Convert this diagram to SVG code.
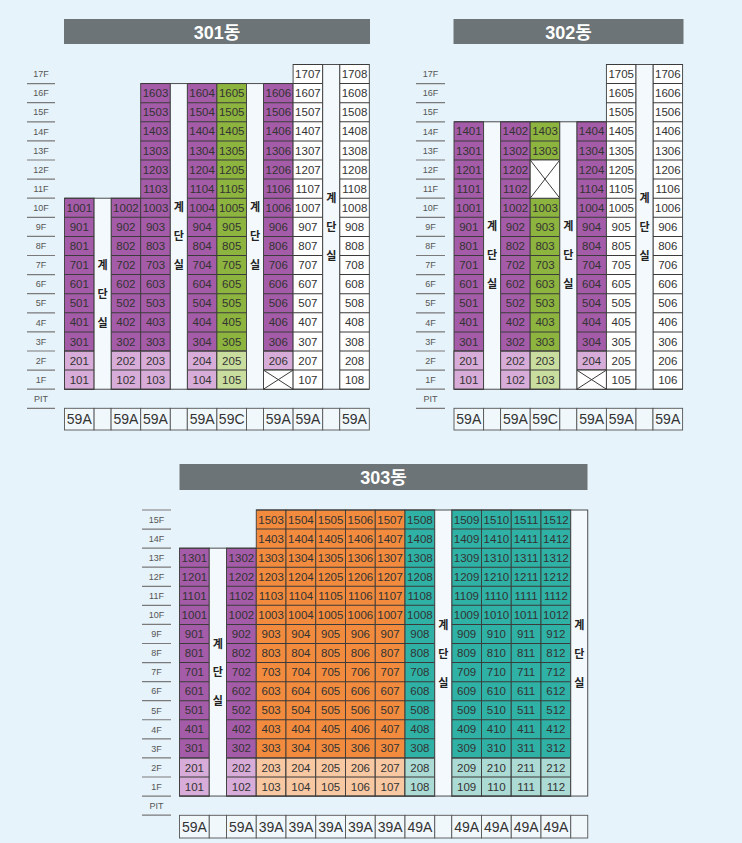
<svg xmlns="http://www.w3.org/2000/svg" width="742" height="843" viewBox="0 0 742 843">
<style>
text{font-family:"Liberation Sans","Noto Sans CJK KR",sans-serif}
.ttl{fill:#6c7477}
.tt{font-size:18px;font-weight:bold;fill:#fff;text-anchor:middle}
.fl{font-size:9px;fill:#555;text-anchor:middle}
.fln{fill:none;stroke:#7a7a7a;stroke-width:28;stroke-dasharray:1.2 17.9}
.fln3{fill:none;stroke:#7a7a7a;stroke-width:29;stroke-dasharray:1.2 17.87}
.c{stroke:#3b3b3b;stroke-width:0.9}
.P{fill:#a45ca8}.PL{fill:#d8acd8}.G{fill:#8db43e}.GL{fill:#c9dd9e}.W{fill:#fff}
.O{fill:#f28b3d}.OL{fill:#f8c8a2}.T{fill:#2fb1a6}.TL{fill:#acdad4}
.S{fill:#f3f9fd;stroke:#3b3b3b;stroke-width:0.9}
.g1{fill:none;stroke:#3b3b3b;stroke-width:29.6;stroke-dasharray:1 18.1}
.g3{fill:none;stroke:#3b3b3b;stroke-width:29.75;stroke-dasharray:1 18.07}
.x{fill:#fff;stroke:#3b3b3b;stroke-width:0.9}
.xl{stroke:#3b3b3b;stroke-width:1;fill:none}
.n{font-size:11.5px;fill:#333;text-anchor:middle}
.k{font-size:11px;font-weight:bold;fill:#222;text-anchor:middle}
.tb{fill:#f1f8fc;stroke:#555;stroke-width:0.9}
.ty{font-size:14px;fill:#333;text-anchor:middle}
</style>
<rect width="742" height="843" fill="#e6f3fa"/>

<g id="b301">
<g id="t301"><rect class="ttl" x="64" y="19" width="306" height="25"/><text class="tt" x="217" y="38.5">301동</text></g>
<g id="f301">
<path class="fln" d="M41 83V409"/>
<text class="fl"><tspan x="41" y="77.2">17F</tspan><tspan x="41" y="96.3">16F</tspan><tspan x="41" y="115.4">15F</tspan><tspan x="41" y="134.5">14F</tspan><tspan x="41" y="153.6">13F</tspan><tspan x="41" y="172.7">12F</tspan><tspan x="41" y="191.8">11F</tspan><tspan x="41" y="210.9">10F</tspan><tspan x="41" y="230">9F</tspan><tspan x="41" y="249.1">8F</tspan><tspan x="41" y="268.2">7F</tspan><tspan x="41" y="287.3">6F</tspan><tspan x="41" y="306.4">5F</tspan><tspan x="41" y="325.5">4F</tspan><tspan x="41" y="344.6">3F</tspan><tspan x="41" y="363.7">2F</tspan><tspan x="41" y="382.8">1F</tspan><tspan x="41" y="401.9">PIT</tspan></text>
</g>
<g id="u301">
<rect class="P c" x="64.5" y="198.2" width="29.6" height="191"/><rect class="PL c" x="64.5" y="351" width="29.6" height="38.2"/><path class="g1" d="M79.3 197.7V389.7"/>
<rect class="P c" x="111.1" y="198.2" width="29.6" height="191"/><rect class="PL c" x="111.1" y="351" width="29.6" height="38.2"/><path class="g1" d="M125.9 197.7V389.7"/>
<rect class="P c" x="140.7" y="83.6" width="29.6" height="305.6"/><rect class="PL c" x="140.7" y="351" width="29.6" height="38.2"/><path class="g1" d="M155.5 83.1V389.7"/>
<rect class="P c" x="187.3" y="83.6" width="29.6" height="305.6"/><rect class="PL c" x="187.3" y="351" width="29.6" height="38.2"/><path class="g1" d="M202.1 83.1V389.7"/>
<rect class="G c" x="216.9" y="83.6" width="29.6" height="305.6"/><rect class="GL c" x="216.9" y="351" width="29.6" height="38.2"/><path class="g1" d="M231.7 83.1V389.7"/>
<rect class="P c" x="263.5" y="83.6" width="29.6" height="305.6"/><rect class="PL c" x="263.5" y="351" width="29.6" height="19.1"/><path class="g1" d="M278.3 83.1V389.7"/>
<rect class="x" x="263.5" y="370.1" width="29.6" height="19.1"/><path class="xl" d="M263.5 370.1L293.1 389.2M293.1 370.1L263.5 389.2"/>
<rect class="W c" x="293.1" y="64.5" width="29.6" height="324.7"/><path class="g1" d="M307.9 64V389.7"/>
<rect class="W c" x="339.7" y="64.5" width="29.6" height="324.7"/><path class="g1" d="M354.5 64V389.7"/>
<rect class="S" x="94.1" y="198.2" width="17" height="191"/>
<rect class="S" x="170.3" y="83.6" width="17" height="305.6"/>
<rect class="S" x="246.5" y="83.6" width="17" height="305.6"/>
<rect class="S" x="322.7" y="64.5" width="17" height="324.7"/>
<text class="n" y="78.1"><tspan x="307.9">1707</tspan><tspan x="354.5">1708</tspan></text>
<text class="n" y="97.2"><tspan x="155.5">1603</tspan><tspan x="202.1">1604</tspan><tspan x="231.7">1605</tspan><tspan x="278.3">1606</tspan><tspan x="307.9">1607</tspan><tspan x="354.5">1608</tspan></text>
<text class="n" y="116.3"><tspan x="155.5">1503</tspan><tspan x="202.1">1504</tspan><tspan x="231.7">1505</tspan><tspan x="278.3">1506</tspan><tspan x="307.9">1507</tspan><tspan x="354.5">1508</tspan></text>
<text class="n" y="135.4"><tspan x="155.5">1403</tspan><tspan x="202.1">1404</tspan><tspan x="231.7">1405</tspan><tspan x="278.3">1406</tspan><tspan x="307.9">1407</tspan><tspan x="354.5">1408</tspan></text>
<text class="n" y="154.5"><tspan x="155.5">1303</tspan><tspan x="202.1">1304</tspan><tspan x="231.7">1305</tspan><tspan x="278.3">1306</tspan><tspan x="307.9">1307</tspan><tspan x="354.5">1308</tspan></text>
<text class="n" y="173.6"><tspan x="155.5">1203</tspan><tspan x="202.1">1204</tspan><tspan x="231.7">1205</tspan><tspan x="278.3">1206</tspan><tspan x="307.9">1207</tspan><tspan x="354.5">1208</tspan></text>
<text class="n" y="192.7"><tspan x="155.5">1103</tspan><tspan x="202.1">1104</tspan><tspan x="231.7">1105</tspan><tspan x="278.3">1106</tspan><tspan x="307.9">1107</tspan><tspan x="354.5">1108</tspan></text>
<text class="n" y="211.8"><tspan x="79.3">1001</tspan><tspan x="125.9">1002</tspan><tspan x="155.5">1003</tspan><tspan x="202.1">1004</tspan><tspan x="231.7">1005</tspan><tspan x="278.3">1006</tspan><tspan x="307.9">1007</tspan><tspan x="354.5">1008</tspan></text>
<text class="n" y="230.9"><tspan x="79.3">901</tspan><tspan x="125.9">902</tspan><tspan x="155.5">903</tspan><tspan x="202.1">904</tspan><tspan x="231.7">905</tspan><tspan x="278.3">906</tspan><tspan x="307.9">907</tspan><tspan x="354.5">908</tspan></text>
<text class="n" y="250"><tspan x="79.3">801</tspan><tspan x="125.9">802</tspan><tspan x="155.5">803</tspan><tspan x="202.1">804</tspan><tspan x="231.7">805</tspan><tspan x="278.3">806</tspan><tspan x="307.9">807</tspan><tspan x="354.5">808</tspan></text>
<text class="n" y="269.1"><tspan x="79.3">701</tspan><tspan x="125.9">702</tspan><tspan x="155.5">703</tspan><tspan x="202.1">704</tspan><tspan x="231.7">705</tspan><tspan x="278.3">706</tspan><tspan x="307.9">707</tspan><tspan x="354.5">708</tspan></text>
<text class="n" y="288.2"><tspan x="79.3">601</tspan><tspan x="125.9">602</tspan><tspan x="155.5">603</tspan><tspan x="202.1">604</tspan><tspan x="231.7">605</tspan><tspan x="278.3">606</tspan><tspan x="307.9">607</tspan><tspan x="354.5">608</tspan></text>
<text class="n" y="307.3"><tspan x="79.3">501</tspan><tspan x="125.9">502</tspan><tspan x="155.5">503</tspan><tspan x="202.1">504</tspan><tspan x="231.7">505</tspan><tspan x="278.3">506</tspan><tspan x="307.9">507</tspan><tspan x="354.5">508</tspan></text>
<text class="n" y="326.4"><tspan x="79.3">401</tspan><tspan x="125.9">402</tspan><tspan x="155.5">403</tspan><tspan x="202.1">404</tspan><tspan x="231.7">405</tspan><tspan x="278.3">406</tspan><tspan x="307.9">407</tspan><tspan x="354.5">408</tspan></text>
<text class="n" y="345.5"><tspan x="79.3">301</tspan><tspan x="125.9">302</tspan><tspan x="155.5">303</tspan><tspan x="202.1">304</tspan><tspan x="231.7">305</tspan><tspan x="278.3">306</tspan><tspan x="307.9">307</tspan><tspan x="354.5">308</tspan></text>
<text class="n" y="364.6"><tspan x="79.3">201</tspan><tspan x="125.9">202</tspan><tspan x="155.5">203</tspan><tspan x="202.1">204</tspan><tspan x="231.7">205</tspan><tspan x="278.3">206</tspan><tspan x="307.9">207</tspan><tspan x="354.5">208</tspan></text>
<text class="n" y="383.7"><tspan x="79.3">101</tspan><tspan x="125.9">102</tspan><tspan x="155.5">103</tspan><tspan x="202.1">104</tspan><tspan x="231.7">105</tspan><tspan x="307.9">107</tspan><tspan x="354.5">108</tspan></text>
<text class="k"><tspan x="102.6" y="269">계</tspan><tspan x="102.6" y="298">단</tspan><tspan x="102.6" y="327">실</tspan></text>
<text class="k"><tspan x="178.8" y="211">계</tspan><tspan x="178.8" y="240">단</tspan><tspan x="178.8" y="269">실</tspan></text>
<text class="k"><tspan x="255" y="211">계</tspan><tspan x="255" y="240">단</tspan><tspan x="255" y="269">실</tspan></text>
<text class="k"><tspan x="331.2" y="202">계</tspan><tspan x="331.2" y="231">단</tspan><tspan x="331.2" y="260">실</tspan></text>
</g>
<g id="ty301">
<rect class="tb" x="64.5" y="408.3" width="29.6" height="21.7"/><rect class="tb" x="94.1" y="408.3" width="17" height="21.7"/><rect class="tb" x="111.1" y="408.3" width="29.6" height="21.7"/><rect class="tb" x="140.7" y="408.3" width="29.6" height="21.7"/><rect class="tb" x="170.3" y="408.3" width="17" height="21.7"/><rect class="tb" x="187.3" y="408.3" width="29.6" height="21.7"/><rect class="tb" x="216.9" y="408.3" width="29.6" height="21.7"/><rect class="tb" x="246.5" y="408.3" width="17" height="21.7"/><rect class="tb" x="263.5" y="408.3" width="29.6" height="21.7"/><rect class="tb" x="293.1" y="408.3" width="29.6" height="21.7"/><rect class="tb" x="322.7" y="408.3" width="17" height="21.7"/><rect class="tb" x="339.7" y="408.3" width="29.6" height="21.7"/>
<text class="ty" y="424.2"><tspan x="79.3">59A</tspan><tspan x="125.9">59A</tspan><tspan x="155.5">59A</tspan><tspan x="202.1">59A</tspan><tspan x="231.7">59C</tspan><tspan x="278.3">59A</tspan><tspan x="307.9">59A</tspan><tspan x="354.5">59A</tspan></text>
</g>
</g>

<g id="b302">
<g id="t302"><rect class="ttl" x="453.5" y="19" width="230" height="25"/><text class="tt" x="568.5" y="38.5">302동</text></g>
<g id="f302">
<path class="fln" d="M430.5 83V409" style="stroke-width:29"/>
<text class="fl"><tspan x="430.5" y="77.2">17F</tspan><tspan x="430.5" y="96.3">16F</tspan><tspan x="430.5" y="115.4">15F</tspan><tspan x="430.5" y="134.5">14F</tspan><tspan x="430.5" y="153.6">13F</tspan><tspan x="430.5" y="172.7">12F</tspan><tspan x="430.5" y="191.8">11F</tspan><tspan x="430.5" y="210.9">10F</tspan><tspan x="430.5" y="230">9F</tspan><tspan x="430.5" y="249.1">8F</tspan><tspan x="430.5" y="268.2">7F</tspan><tspan x="430.5" y="287.3">6F</tspan><tspan x="430.5" y="306.4">5F</tspan><tspan x="430.5" y="325.5">4F</tspan><tspan x="430.5" y="344.6">3F</tspan><tspan x="430.5" y="363.7">2F</tspan><tspan x="430.5" y="382.8">1F</tspan><tspan x="430.5" y="401.9">PIT</tspan></text>
</g>
<g id="u302">
<rect class="P c" x="454" y="121.8" width="29.6" height="267.4"/><rect class="PL c" x="454" y="351" width="29.6" height="38.2"/><path class="g1" d="M468.8 121.3V389.7"/>
<rect class="P c" x="500.6" y="121.8" width="29.6" height="267.4"/><rect class="PL c" x="500.6" y="351" width="29.6" height="38.2"/><path class="g1" d="M515.4 121.3V389.7"/>
<rect class="G c" x="530.2" y="121.8" width="29.6" height="267.4"/><rect class="GL c" x="530.2" y="351" width="29.6" height="38.2"/><path class="g1" d="M545 121.3V389.7"/>
<rect class="x" x="530.2" y="160" width="29.6" height="38.2"/><path class="xl" d="M530.2 160L559.8 198.2M559.8 160L530.2 198.2"/>
<rect class="P c" x="576.8" y="121.8" width="29.6" height="267.4"/><rect class="PL c" x="576.8" y="351" width="29.6" height="19.1"/><path class="g1" d="M591.6 121.3V389.7"/>
<rect class="x" x="576.8" y="370.1" width="29.6" height="19.1"/><path class="xl" d="M576.8 370.1L606.4 389.2M606.4 370.1L576.8 389.2"/>
<rect class="W c" x="606.4" y="64.5" width="29.6" height="324.7"/><path class="g1" d="M621.2 64V389.7"/>
<rect class="W c" x="653" y="64.5" width="29.6" height="324.7"/><path class="g1" d="M667.8 64V389.7"/>
<rect class="S" x="483.6" y="121.8" width="17" height="267.4"/>
<rect class="S" x="559.8" y="121.8" width="17" height="267.4"/>
<rect class="S" x="636" y="64.5" width="17" height="324.7"/>
<text class="n" y="78.1"><tspan x="621.2">1705</tspan><tspan x="667.8">1706</tspan></text>
<text class="n" y="97.2"><tspan x="621.2">1605</tspan><tspan x="667.8">1606</tspan></text>
<text class="n" y="116.3"><tspan x="621.2">1505</tspan><tspan x="667.8">1506</tspan></text>
<text class="n" y="135.4"><tspan x="468.8">1401</tspan><tspan x="515.4">1402</tspan><tspan x="545">1403</tspan><tspan x="591.6">1404</tspan><tspan x="621.2">1405</tspan><tspan x="667.8">1406</tspan></text>
<text class="n" y="154.5"><tspan x="468.8">1301</tspan><tspan x="515.4">1302</tspan><tspan x="545">1303</tspan><tspan x="591.6">1304</tspan><tspan x="621.2">1305</tspan><tspan x="667.8">1306</tspan></text>
<text class="n" y="173.6"><tspan x="468.8">1201</tspan><tspan x="515.4">1202</tspan><tspan x="591.6">1204</tspan><tspan x="621.2">1205</tspan><tspan x="667.8">1206</tspan></text>
<text class="n" y="192.7"><tspan x="468.8">1101</tspan><tspan x="515.4">1102</tspan><tspan x="591.6">1104</tspan><tspan x="621.2">1105</tspan><tspan x="667.8">1106</tspan></text>
<text class="n" y="211.8"><tspan x="468.8">1001</tspan><tspan x="515.4">1002</tspan><tspan x="545">1003</tspan><tspan x="591.6">1004</tspan><tspan x="621.2">1005</tspan><tspan x="667.8">1006</tspan></text>
<text class="n" y="230.9"><tspan x="468.8">901</tspan><tspan x="515.4">902</tspan><tspan x="545">903</tspan><tspan x="591.6">904</tspan><tspan x="621.2">905</tspan><tspan x="667.8">906</tspan></text>
<text class="n" y="250"><tspan x="468.8">801</tspan><tspan x="515.4">802</tspan><tspan x="545">803</tspan><tspan x="591.6">804</tspan><tspan x="621.2">805</tspan><tspan x="667.8">806</tspan></text>
<text class="n" y="269.1"><tspan x="468.8">701</tspan><tspan x="515.4">702</tspan><tspan x="545">703</tspan><tspan x="591.6">704</tspan><tspan x="621.2">705</tspan><tspan x="667.8">706</tspan></text>
<text class="n" y="288.2"><tspan x="468.8">601</tspan><tspan x="515.4">602</tspan><tspan x="545">603</tspan><tspan x="591.6">604</tspan><tspan x="621.2">605</tspan><tspan x="667.8">606</tspan></text>
<text class="n" y="307.3"><tspan x="468.8">501</tspan><tspan x="515.4">502</tspan><tspan x="545">503</tspan><tspan x="591.6">504</tspan><tspan x="621.2">505</tspan><tspan x="667.8">506</tspan></text>
<text class="n" y="326.4"><tspan x="468.8">401</tspan><tspan x="515.4">402</tspan><tspan x="545">403</tspan><tspan x="591.6">404</tspan><tspan x="621.2">405</tspan><tspan x="667.8">406</tspan></text>
<text class="n" y="345.5"><tspan x="468.8">301</tspan><tspan x="515.4">302</tspan><tspan x="545">303</tspan><tspan x="591.6">304</tspan><tspan x="621.2">305</tspan><tspan x="667.8">306</tspan></text>
<text class="n" y="364.6"><tspan x="468.8">201</tspan><tspan x="515.4">202</tspan><tspan x="545">203</tspan><tspan x="591.6">204</tspan><tspan x="621.2">205</tspan><tspan x="667.8">206</tspan></text>
<text class="n" y="383.7"><tspan x="468.8">101</tspan><tspan x="515.4">102</tspan><tspan x="545">103</tspan><tspan x="621.2">105</tspan><tspan x="667.8">106</tspan></text>
<text class="k"><tspan x="492.1" y="230">계</tspan><tspan x="492.1" y="259">단</tspan><tspan x="492.1" y="288">실</tspan></text>
<text class="k"><tspan x="568.3" y="230">계</tspan><tspan x="568.3" y="259">단</tspan><tspan x="568.3" y="288">실</tspan></text>
<text class="k"><tspan x="644.5" y="202">계</tspan><tspan x="644.5" y="231">단</tspan><tspan x="644.5" y="260">실</tspan></text>
</g>
<g id="ty302">
<rect class="tb" x="454" y="408.3" width="29.6" height="21.7"/><rect class="tb" x="483.6" y="408.3" width="17" height="21.7"/><rect class="tb" x="500.6" y="408.3" width="29.6" height="21.7"/><rect class="tb" x="530.2" y="408.3" width="29.6" height="21.7"/><rect class="tb" x="559.8" y="408.3" width="17" height="21.7"/><rect class="tb" x="576.8" y="408.3" width="29.6" height="21.7"/><rect class="tb" x="606.4" y="408.3" width="29.6" height="21.7"/><rect class="tb" x="636" y="408.3" width="17" height="21.7"/><rect class="tb" x="653" y="408.3" width="29.6" height="21.7"/>
<text class="ty" y="424.2"><tspan x="468.8">59A</tspan><tspan x="515.4">59A</tspan><tspan x="545">59C</tspan><tspan x="591.6">59A</tspan><tspan x="621.2">59A</tspan><tspan x="667.8">59A</tspan></text>
</g>
</g>

<g id="b303">
<g id="t303"><rect class="ttl" x="179.5" y="464" width="408" height="26"/><text class="tt" x="383.5" y="484">303동</text></g>
<g id="f303">
<path class="fln3" d="M156.5 509.4V815.8"/>
<text class="fl"><tspan x="156.5" y="522.8">15F</tspan><tspan x="156.5" y="541.8">14F</tspan><tspan x="156.5" y="560.9">13F</tspan><tspan x="156.5" y="580">12F</tspan><tspan x="156.5" y="599">11F</tspan><tspan x="156.5" y="618.1">10F</tspan><tspan x="156.5" y="637.2">9F</tspan><tspan x="156.5" y="656.2">8F</tspan><tspan x="156.5" y="675.3">7F</tspan><tspan x="156.5" y="694.4">6F</tspan><tspan x="156.5" y="713.5">5F</tspan><tspan x="156.5" y="732.5">4F</tspan><tspan x="156.5" y="751.6">3F</tspan><tspan x="156.5" y="770.7">2F</tspan><tspan x="156.5" y="789.7">1F</tspan><tspan x="156.5" y="808.8">PIT</tspan></text>
</g>
<g id="u303">
<rect class="P c" x="179.5" y="548.14" width="29.75" height="247.91"/><rect class="PL c" x="179.5" y="757.91" width="29.75" height="38.14"/><path class="g3" d="M194.375 547.64V796.6"/>
<rect class="P c" x="226.5" y="548.14" width="29.75" height="247.91"/><rect class="PL c" x="226.5" y="757.91" width="29.75" height="38.14"/><path class="g3" d="M241.375 547.64V796.6"/>
<rect class="O c" x="256.25" y="510" width="29.75" height="286.05"/><rect class="OL c" x="256.25" y="757.91" width="29.75" height="38.14"/><path class="g3" d="M271.125 509.5V796.6"/>
<rect class="O c" x="286" y="510" width="29.75" height="286.05"/><rect class="OL c" x="286" y="757.91" width="29.75" height="38.14"/><path class="g3" d="M300.875 509.5V796.6"/>
<rect class="O c" x="315.75" y="510" width="29.75" height="286.05"/><rect class="OL c" x="315.75" y="757.91" width="29.75" height="38.14"/><path class="g3" d="M330.625 509.5V796.6"/>
<rect class="O c" x="345.5" y="510" width="29.75" height="286.05"/><rect class="OL c" x="345.5" y="757.91" width="29.75" height="38.14"/><path class="g3" d="M360.375 509.5V796.6"/>
<rect class="O c" x="375.25" y="510" width="29.75" height="286.05"/><rect class="OL c" x="375.25" y="757.91" width="29.75" height="38.14"/><path class="g3" d="M390.125 509.5V796.6"/>
<rect class="T c" x="405" y="510" width="29.75" height="286.05"/><rect class="TL c" x="405" y="757.91" width="29.75" height="38.14"/><path class="g3" d="M419.875 509.5V796.6"/>
<rect class="T c" x="451.75" y="510" width="29.75" height="286.05"/><rect class="TL c" x="451.75" y="757.91" width="29.75" height="38.14"/><path class="g3" d="M466.625 509.5V796.6"/>
<rect class="T c" x="481.5" y="510" width="29.75" height="286.05"/><rect class="TL c" x="481.5" y="757.91" width="29.75" height="38.14"/><path class="g3" d="M496.375 509.5V796.6"/>
<rect class="T c" x="511.25" y="510" width="29.75" height="286.05"/><rect class="TL c" x="511.25" y="757.91" width="29.75" height="38.14"/><path class="g3" d="M526.125 509.5V796.6"/>
<rect class="T c" x="541" y="510" width="29.75" height="286.05"/><rect class="TL c" x="541" y="757.91" width="29.75" height="38.14"/><path class="g3" d="M555.875 509.5V796.6"/>
<rect class="S" x="209.25" y="548.14" width="17.25" height="247.91"/>
<rect class="S" x="434.75" y="510" width="17" height="286.05"/>
<rect class="S" x="570.75" y="510" width="17" height="286.05"/>
<text class="n" y="523.6"><tspan x="271.1">1503</tspan><tspan x="300.9">1504</tspan><tspan x="330.6">1505</tspan><tspan x="360.4">1506</tspan><tspan x="390.1">1507</tspan><tspan x="419.9">1508</tspan><tspan x="466.6">1509</tspan><tspan x="496.4">1510</tspan><tspan x="526.1">1511</tspan><tspan x="555.9">1512</tspan></text>
<text class="n" y="542.7"><tspan x="271.1">1403</tspan><tspan x="300.9">1404</tspan><tspan x="330.6">1405</tspan><tspan x="360.4">1406</tspan><tspan x="390.1">1407</tspan><tspan x="419.9">1408</tspan><tspan x="466.6">1409</tspan><tspan x="496.4">1410</tspan><tspan x="526.1">1411</tspan><tspan x="555.9">1412</tspan></text>
<text class="n" y="561.7"><tspan x="194.4">1301</tspan><tspan x="241.4">1302</tspan><tspan x="271.1">1303</tspan><tspan x="300.9">1304</tspan><tspan x="330.6">1305</tspan><tspan x="360.4">1306</tspan><tspan x="390.1">1307</tspan><tspan x="419.9">1308</tspan><tspan x="466.6">1309</tspan><tspan x="496.4">1310</tspan><tspan x="526.1">1311</tspan><tspan x="555.9">1312</tspan></text>
<text class="n" y="580.8"><tspan x="194.4">1201</tspan><tspan x="241.4">1202</tspan><tspan x="271.1">1203</tspan><tspan x="300.9">1204</tspan><tspan x="330.6">1205</tspan><tspan x="360.4">1206</tspan><tspan x="390.1">1207</tspan><tspan x="419.9">1208</tspan><tspan x="466.6">1209</tspan><tspan x="496.4">1210</tspan><tspan x="526.1">1211</tspan><tspan x="555.9">1212</tspan></text>
<text class="n" y="599.9"><tspan x="194.4">1101</tspan><tspan x="241.4">1102</tspan><tspan x="271.1">1103</tspan><tspan x="300.9">1104</tspan><tspan x="330.6">1105</tspan><tspan x="360.4">1106</tspan><tspan x="390.1">1107</tspan><tspan x="419.9">1108</tspan><tspan x="466.6">1109</tspan><tspan x="496.4">1110</tspan><tspan x="526.1">1111</tspan><tspan x="555.9">1112</tspan></text>
<text class="n" y="619"><tspan x="194.4">1001</tspan><tspan x="241.4">1002</tspan><tspan x="271.1">1003</tspan><tspan x="300.9">1004</tspan><tspan x="330.6">1005</tspan><tspan x="360.4">1006</tspan><tspan x="390.1">1007</tspan><tspan x="419.9">1008</tspan><tspan x="466.6">1009</tspan><tspan x="496.4">1010</tspan><tspan x="526.1">1011</tspan><tspan x="555.9">1012</tspan></text>
<text class="n" y="638"><tspan x="194.4">901</tspan><tspan x="241.4">902</tspan><tspan x="271.1">903</tspan><tspan x="300.9">904</tspan><tspan x="330.6">905</tspan><tspan x="360.4">906</tspan><tspan x="390.1">907</tspan><tspan x="419.9">908</tspan><tspan x="466.6">909</tspan><tspan x="496.4">910</tspan><tspan x="526.1">911</tspan><tspan x="555.9">912</tspan></text>
<text class="n" y="657.1"><tspan x="194.4">801</tspan><tspan x="241.4">802</tspan><tspan x="271.1">803</tspan><tspan x="300.9">804</tspan><tspan x="330.6">805</tspan><tspan x="360.4">806</tspan><tspan x="390.1">807</tspan><tspan x="419.9">808</tspan><tspan x="466.6">809</tspan><tspan x="496.4">810</tspan><tspan x="526.1">811</tspan><tspan x="555.9">812</tspan></text>
<text class="n" y="676.2"><tspan x="194.4">701</tspan><tspan x="241.4">702</tspan><tspan x="271.1">703</tspan><tspan x="300.9">704</tspan><tspan x="330.6">705</tspan><tspan x="360.4">706</tspan><tspan x="390.1">707</tspan><tspan x="419.9">708</tspan><tspan x="466.6">709</tspan><tspan x="496.4">710</tspan><tspan x="526.1">711</tspan><tspan x="555.9">712</tspan></text>
<text class="n" y="695.2"><tspan x="194.4">601</tspan><tspan x="241.4">602</tspan><tspan x="271.1">603</tspan><tspan x="300.9">604</tspan><tspan x="330.6">605</tspan><tspan x="360.4">606</tspan><tspan x="390.1">607</tspan><tspan x="419.9">608</tspan><tspan x="466.6">609</tspan><tspan x="496.4">610</tspan><tspan x="526.1">611</tspan><tspan x="555.9">612</tspan></text>
<text class="n" y="714.3"><tspan x="194.4">501</tspan><tspan x="241.4">502</tspan><tspan x="271.1">503</tspan><tspan x="300.9">504</tspan><tspan x="330.6">505</tspan><tspan x="360.4">506</tspan><tspan x="390.1">507</tspan><tspan x="419.9">508</tspan><tspan x="466.6">509</tspan><tspan x="496.4">510</tspan><tspan x="526.1">511</tspan><tspan x="555.9">512</tspan></text>
<text class="n" y="733.4"><tspan x="194.4">401</tspan><tspan x="241.4">402</tspan><tspan x="271.1">403</tspan><tspan x="300.9">404</tspan><tspan x="330.6">405</tspan><tspan x="360.4">406</tspan><tspan x="390.1">407</tspan><tspan x="419.9">408</tspan><tspan x="466.6">409</tspan><tspan x="496.4">410</tspan><tspan x="526.1">411</tspan><tspan x="555.9">412</tspan></text>
<text class="n" y="752.4"><tspan x="194.4">301</tspan><tspan x="241.4">302</tspan><tspan x="271.1">303</tspan><tspan x="300.9">304</tspan><tspan x="330.6">305</tspan><tspan x="360.4">306</tspan><tspan x="390.1">307</tspan><tspan x="419.9">308</tspan><tspan x="466.6">309</tspan><tspan x="496.4">310</tspan><tspan x="526.1">311</tspan><tspan x="555.9">312</tspan></text>
<text class="n" y="771.5"><tspan x="194.4">201</tspan><tspan x="241.4">202</tspan><tspan x="271.1">203</tspan><tspan x="300.9">204</tspan><tspan x="330.6">205</tspan><tspan x="360.4">206</tspan><tspan x="390.1">207</tspan><tspan x="419.9">208</tspan><tspan x="466.6">209</tspan><tspan x="496.4">210</tspan><tspan x="526.1">211</tspan><tspan x="555.9">212</tspan></text>
<text class="n" y="790.6"><tspan x="194.4">101</tspan><tspan x="241.4">102</tspan><tspan x="271.1">103</tspan><tspan x="300.9">104</tspan><tspan x="330.6">105</tspan><tspan x="360.4">106</tspan><tspan x="390.1">107</tspan><tspan x="419.9">108</tspan><tspan x="466.6">109</tspan><tspan x="496.4">110</tspan><tspan x="526.1">111</tspan><tspan x="555.9">112</tspan></text>
<text class="k"><tspan x="217.9" y="648">계</tspan><tspan x="217.9" y="676">단</tspan><tspan x="217.9" y="705">실</tspan></text>
<text class="k"><tspan x="443.25" y="629">계</tspan><tspan x="443.25" y="658">단</tspan><tspan x="443.25" y="687">실</tspan></text>
<text class="k"><tspan x="579.25" y="629">계</tspan><tspan x="579.25" y="658">단</tspan><tspan x="579.25" y="687">실</tspan></text>
</g>
<g id="ty303">
<rect class="tb" x="179.5" y="815.3" width="29.75" height="22.7"/><rect class="tb" x="209.25" y="815.3" width="17.25" height="22.7"/><rect class="tb" x="226.5" y="815.3" width="29.75" height="22.7"/><rect class="tb" x="256.25" y="815.3" width="29.75" height="22.7"/><rect class="tb" x="286" y="815.3" width="29.75" height="22.7"/><rect class="tb" x="315.75" y="815.3" width="29.75" height="22.7"/><rect class="tb" x="345.5" y="815.3" width="29.75" height="22.7"/><rect class="tb" x="375.25" y="815.3" width="29.75" height="22.7"/><rect class="tb" x="405" y="815.3" width="29.75" height="22.7"/><rect class="tb" x="434.75" y="815.3" width="17" height="22.7"/><rect class="tb" x="451.75" y="815.3" width="29.75" height="22.7"/><rect class="tb" x="481.5" y="815.3" width="29.75" height="22.7"/><rect class="tb" x="511.25" y="815.3" width="29.75" height="22.7"/><rect class="tb" x="541" y="815.3" width="29.75" height="22.7"/><rect class="tb" x="570.75" y="815.3" width="17" height="22.7"/>
<text class="ty" y="831.7"><tspan x="194.4">59A</tspan><tspan x="241.4">59A</tspan><tspan x="271.1">39A</tspan><tspan x="300.9">39A</tspan><tspan x="330.6">39A</tspan><tspan x="360.4">39A</tspan><tspan x="390.1">39A</tspan><tspan x="419.9">49A</tspan><tspan x="466.6">49A</tspan><tspan x="496.4">49A</tspan><tspan x="526.1">49A</tspan><tspan x="555.9">49A</tspan></text>
</g>
</g>
</svg>
